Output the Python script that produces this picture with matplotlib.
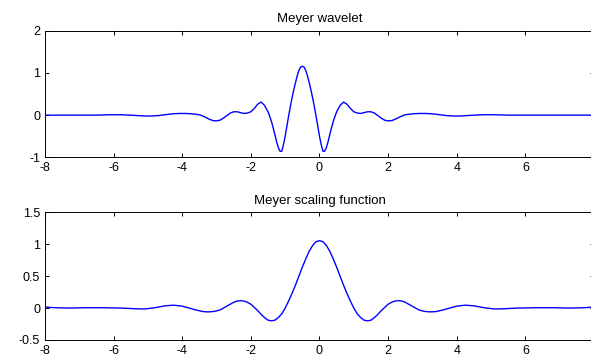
import matplotlib
matplotlib.use("Agg")
import matplotlib.pyplot as plt

plt.rcParams["font.family"] = ["Liberation Sans", "DejaVu Sans"]

# Meyer wavelet, values
wav_x = [-8.0, -7.5, -7.0, -6.5, -6.1, -5.8, -5.5, -5.3, -5.1, -4.9, -4.7,
         -4.5, -4.3, -4.1, -3.9, -3.7,
         -3.5, -3.4, -3.3, -3.2, -3.1, -3.0, -2.9, -2.8, -2.7, -2.6, -2.5,
         -2.4, -2.3, -2.2, -2.1, -2.0, -1.9, -1.8, -1.7, -1.6, -1.5,
         -1.45, -1.4, -1.35, -1.3, -1.25, -1.2, -1.15, -1.1, -1.05, -1.0,
         -0.95, -0.9, -0.85, -0.8, -0.75, -0.7, -0.65, -0.6, -0.55, -0.5,
         -0.45, -0.4, -0.35, -0.3, -0.25, -0.2, -0.15, -0.1, -0.05, 0.0,
         0.05, 0.1, 0.15, 0.2, 0.25, 0.3, 0.35, 0.4, 0.45,
         0.5, 0.6, 0.7, 0.8, 0.9, 1.0, 1.1, 1.2, 1.3, 1.4, 1.5,
         1.6, 1.7, 1.8, 1.9, 2.0, 2.1, 2.2, 2.3, 2.4, 2.5,
         2.7, 2.9, 3.1, 3.3, 3.5, 3.7, 3.9, 4.1, 4.3, 4.5,
         4.8, 5.1, 5.5, 6.0, 6.5, 7.0, 7.5, 8.0]
wav_y = [0.0, 0.0, 0.0, 0.0, 0.01, 0.01, 0.0, -0.01, -0.02, -0.02, -0.01,
         0.01, 0.03, 0.04, 0.04, 0.03,
         0.01, -0.02, -0.06, -0.10, -0.13, -0.135, -0.12, -0.07, -0.01, 0.05, 0.08,
         0.08, 0.06, 0.04, 0.05, 0.08, 0.16, 0.26, 0.31, 0.23, 0.08,
         -0.03, -0.15, -0.30, -0.46, -0.63, -0.77, -0.855, -0.855, -0.70, -0.50,
         -0.26, -0.02, 0.20, 0.41, 0.60, 0.77, 0.93, 1.06, 1.14, 1.16,
         1.14, 1.06, 0.93, 0.77, 0.60, 0.41, 0.20, -0.02, -0.26, -0.50,
         -0.70, -0.855, -0.855, -0.77, -0.63, -0.46, -0.30, -0.15, -0.03,
         0.08, 0.23, 0.31, 0.26, 0.16, 0.08, 0.05, 0.04, 0.06, 0.08, 0.08,
         0.05, -0.01, -0.07, -0.12, -0.135, -0.13, -0.10, -0.06, -0.02, 0.01,
         0.03, 0.04, 0.04, 0.03, 0.01, -0.01, -0.02, -0.02, -0.01, 0.0,
         0.01, 0.01, 0.0, 0.0, 0.0, 0.0, 0.0, 0.0]

# Meyer scaling function
phi_x = [-8.0, -7.7, -7.3, -6.8, -6.3, -5.8, -5.4, -5.1, -4.8, -4.5, -4.25,
         -4.0, -3.8, -3.6, -3.4, -3.25, -3.1, -3.0, -2.9,
         -2.8, -2.7, -2.6, -2.5, -2.4, -2.3, -2.2, -2.1, -2.0, -1.9,
         -1.8, -1.7, -1.6, -1.5, -1.4, -1.3, -1.2, -1.1, -1.0, -0.9,
         -0.8, -0.7, -0.6, -0.5, -0.4, -0.3, -0.2, -0.1, 0.0,
         0.1, 0.2, 0.3, 0.4, 0.5, 0.6, 0.7, 0.8, 0.9, 1.0,
         1.1, 1.2, 1.3, 1.4, 1.5, 1.6, 1.7, 1.8, 1.9, 2.0,
         2.1, 2.2, 2.3, 2.4, 2.5, 2.6, 2.7, 2.8,
         2.9, 3.0, 3.1, 3.25, 3.4, 3.6, 3.8, 4.0, 4.25, 4.5,
         4.8, 5.1, 5.4, 5.8, 6.3, 6.8, 7.3, 7.7, 8.0]
phi_y = [0.015, 0.005, 0.0, 0.005, 0.005, 0.0, -0.01, -0.015, 0.005, 0.035, 0.045,
         0.03, 0.0, -0.03, -0.055, -0.06, -0.055, -0.045, -0.03,
         0.0, 0.03, 0.06, 0.09, 0.11, 0.115, 0.11, 0.09, 0.06, 0.01,
         -0.04, -0.10, -0.15, -0.19, -0.20, -0.19, -0.15, -0.09, 0.0, 0.11,
         0.23, 0.36, 0.50, 0.64, 0.77, 0.89, 0.98, 1.04, 1.055,
         1.04, 0.98, 0.89, 0.77, 0.64, 0.50, 0.36, 0.23, 0.11, 0.0,
         -0.09, -0.15, -0.19, -0.20, -0.19, -0.15, -0.10, -0.04, 0.01, 0.06,
         0.09, 0.11, 0.115, 0.11, 0.09, 0.06, 0.03, 0.0,
         -0.03, -0.045, -0.055, -0.06, -0.055, -0.03, 0.0, 0.03, 0.045, 0.035,
         0.005, -0.015, -0.01, 0.0, 0.005, 0.005, 0.0, 0.005, 0.015]

x_ticks = [-8, -6, -4, -2, 0, 2, 4, 6]
wav_yticks = [-1, 0, 1, 2]
phi_yticks = [-0.5, 0, 0.5, 1, 1.5]
phi_ylabels = ["-0.5", "0", "0.5", "1", "1.5"]


def style_axes(ax):
    ax.set_xlim(-8, 8)
    ax.set_xticks(x_ticks)
    ax.set_xticklabels([str(t) for t in x_ticks])
    ax.tick_params(direction="in", length=3, width=0.7, labelsize=9,
                   top=True, right=True, pad=3.5)
    for s in ax.spines.values():
        s.set_linewidth(0.7)


fig = plt.figure(figsize=(5.91, 3.56), dpi=100)

ax1 = fig.add_axes([0.0761, 0.558, 0.929, 0.3556])
ax1.plot(wav_x, wav_y, color="#0000ff", lw=1.0)
style_axes(ax1)
ax1.set_ylim(-1, 2)
ax1.set_yticks(wav_yticks)
ax1.set_yticklabels([str(t) for t in wav_yticks])
ax1.set_title("Meyer wavelet", fontsize=9.5, pad=6.5)

ax2 = fig.add_axes([0.0761, 0.045, 0.929, 0.3587])
ax2.plot(phi_x, phi_y, color="#0000ff", lw=1.0)
style_axes(ax2)
ax2.set_ylim(-0.5, 1.5)
ax2.set_yticks(phi_yticks)
ax2.set_yticklabels(phi_ylabels)
ax2.set_title("Meyer scaling function", fontsize=9.5, pad=6)

fig.savefig("out.png", dpi=100)
